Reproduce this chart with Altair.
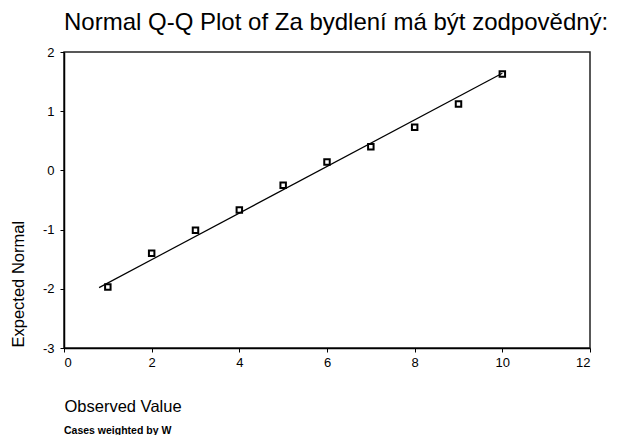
import altair as alt
import pandas as pd

observed = [1, 2, 3, 4, 5, 6, 7, 8, 9, 10]
expected = [-1.97, -1.40, -1.01, -0.67, -0.25, 0.14, 0.40, 0.73, 1.12, 1.63]
line_x = [0.8, 10.0]
line_y = [-1.98, 1.64]
x_ticks = [0, 2, 4, 6, 8, 10, 12]
y_ticks = [-3, -2, -1, 0, 1, 2]
title_text = "Normal Q-Q Plot of Za bydlení má být zodpovědný:"
note_text = "Cases weighted by W"

FONT = "Liberation Sans"

pts = pd.DataFrame({"obs": observed, "exp": expected})
ln = pd.DataFrame({"obs": line_x, "exp": line_y})
texts = pd.DataFrame({"t": [title_text]})
note = pd.DataFrame({"t": [note_text]})

xs = alt.Scale(domain=[0, 12], nice=False, zero=False)
ys = alt.Scale(domain=[-3, 2], nice=False, zero=False)

xaxis = alt.Axis(values=x_ticks, labelExpr="'' + datum.value", title="Observed Value",
                 grid=False, tickSize=4, labelPadding=4, labelFontSize=13,
                 titleX=0, titleY=63, titleAlign="left", titleBaseline="alphabetic",
                 titleFontSize=16.5, titleFontWeight="normal")
yaxis = alt.Axis(values=y_ticks, labelExpr="'' + datum.value", title="Expected Normal",
                 grid=False, tickSize=4, labelPadding=6, labelFontSize=13,
                 titleX=-41, titleY=295, titleAngle=-90, titleAlign="left",
                 titleBaseline="alphabetic", titleFontSize=16.5, titleFontWeight="normal")

line = alt.Chart(ln).mark_line(color="black", strokeWidth=1.2).encode(
    x=alt.X("obs:Q", scale=xs, axis=xaxis),
    y=alt.Y("exp:Q", scale=ys, axis=yaxis),
)
points = alt.Chart(pts).mark_point(shape="square", filled=False, color="black",
                                   size=30, strokeWidth=2, opacity=1).encode(
    x=alt.X("obs:Q", scale=xs),
    y=alt.Y("exp:Q", scale=ys),
)
title_mark = alt.Chart(texts).mark_text(align="left", baseline="alphabetic",
                                        fontSize=24, font=FONT, color="black").encode(
    text="t:N", x=alt.value(0), y=alt.value(-22)
)
note_mark = alt.Chart(note).mark_text(align="left", baseline="alphabetic",
                                      fontSize=10.5, fontWeight="bold",
                                      font=FONT, color="black").encode(
    text="t:N", x=alt.value(0), y=alt.value(382)
)

chart = alt.layer(line, points, title_mark, note_mark).properties(
    width=526, height=296,
    background="white",
    autosize=alt.AutoSizeParams(type="none"),
    padding={"left": 56, "top": 44, "right": 21, "bottom": 87},
).configure_view(stroke="#222222", strokeWidth=1.5).configure_axis(
    domainColor="black", tickColor="black", labelColor="black",
    titleColor="black", labelFont=FONT, titleFont=FONT, domainWidth=1.5,
)

chart.save("out.html", embed_options={"renderer": "svg", "actions": False})
